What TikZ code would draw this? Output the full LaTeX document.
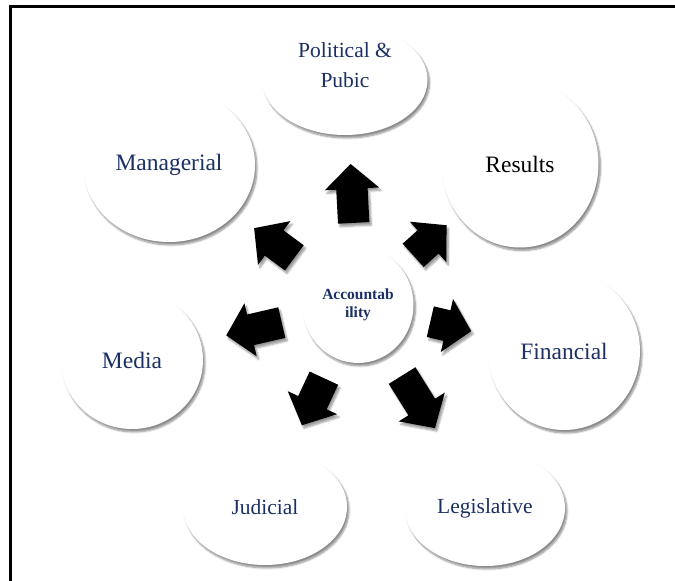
\documentclass[tikz,border=0pt]{standalone}
\usepackage{fontspec}
\setmainfont{Liberation Serif}
\usetikzlibrary{shapes.geometric,shapes.arrows,shadows.blur}
\definecolor{navy}{RGB}{28,48,100}

\tikzset{
  bubble/.style={ellipse, fill=white, inner sep=0pt, align=center, text=navy,
    font=\fontsize{23.5}{28}\selectfont,
    blur shadow={shadow xshift=2pt, shadow yshift=-3pt, shadow blur steps=8, shadow opacity=45}},
  smalltext/.style={font=\fontsize{21.5}{30}\selectfont},
  pushout/.style={single arrow, fill=black, inner xsep=0pt, inner ysep=15.5pt,
    single arrow head extend=11.5pt, single arrow tip angle=95, anchor=tail,
    blur shadow={shadow xshift=2pt, shadow yshift=-3pt, shadow blur steps=6, shadow opacity=40}}
}

\begin{document}
\begin{tikzpicture}[x=1pt,y=1pt]
        \useasboundingbox (0,0) rectangle (675,581);
        % Frame
        \draw[line width=3pt] (10,0) -- (10,574) -- (675,574);

        % Centre
        \node[bubble, minimum width=111pt, minimum height=116pt,
              font=\bfseries\fontsize{15.5}{18}\selectfont] (acc) at (358,276) {Accountab\\ility};

        % Outer bubbles
        \node[bubble, smalltext, minimum width=165pt, minimum height=110pt] (polit) at (345,501) {Political \&\\Pubic\\\mbox{}};
        \node[bubble, minimum width=172pt, minimum height=154pt] (manag) at (169,416) {Managerial};
        \node[bubble, minimum width=157pt, minimum height=167pt, text=black] (resul) at (520,417) {Results};
        \node[bubble, minimum width=152pt, minimum height=158pt] (finan) at (564,230) {Financial};
        \node[bubble, minimum width=142pt, minimum height=138pt] (media) at (132,221) {Media};
        \node[bubble, smalltext, minimum width=164pt, minimum height=116pt] (judic) at (265,74) {Judicial};
        \node[bubble, smalltext, minimum width=160pt, minimum height=116pt] (legis) at (485,73) {Legislative};

        % Block arrows around the centre (angle / tail distance / length)
        \foreach \ang/\dist/\len [count=\i] in {93/82/59, 143.5/79/50, 193/78/57, 245/80.5/52,
                                              302/83/62, 347/74/42, 42/74/45}
          \node[pushout, rotate=\ang, minimum height=\len pt] (arr\i) at ([shift={(\ang:\dist pt)}]acc.center) {};
\end{tikzpicture}
\end{document}
